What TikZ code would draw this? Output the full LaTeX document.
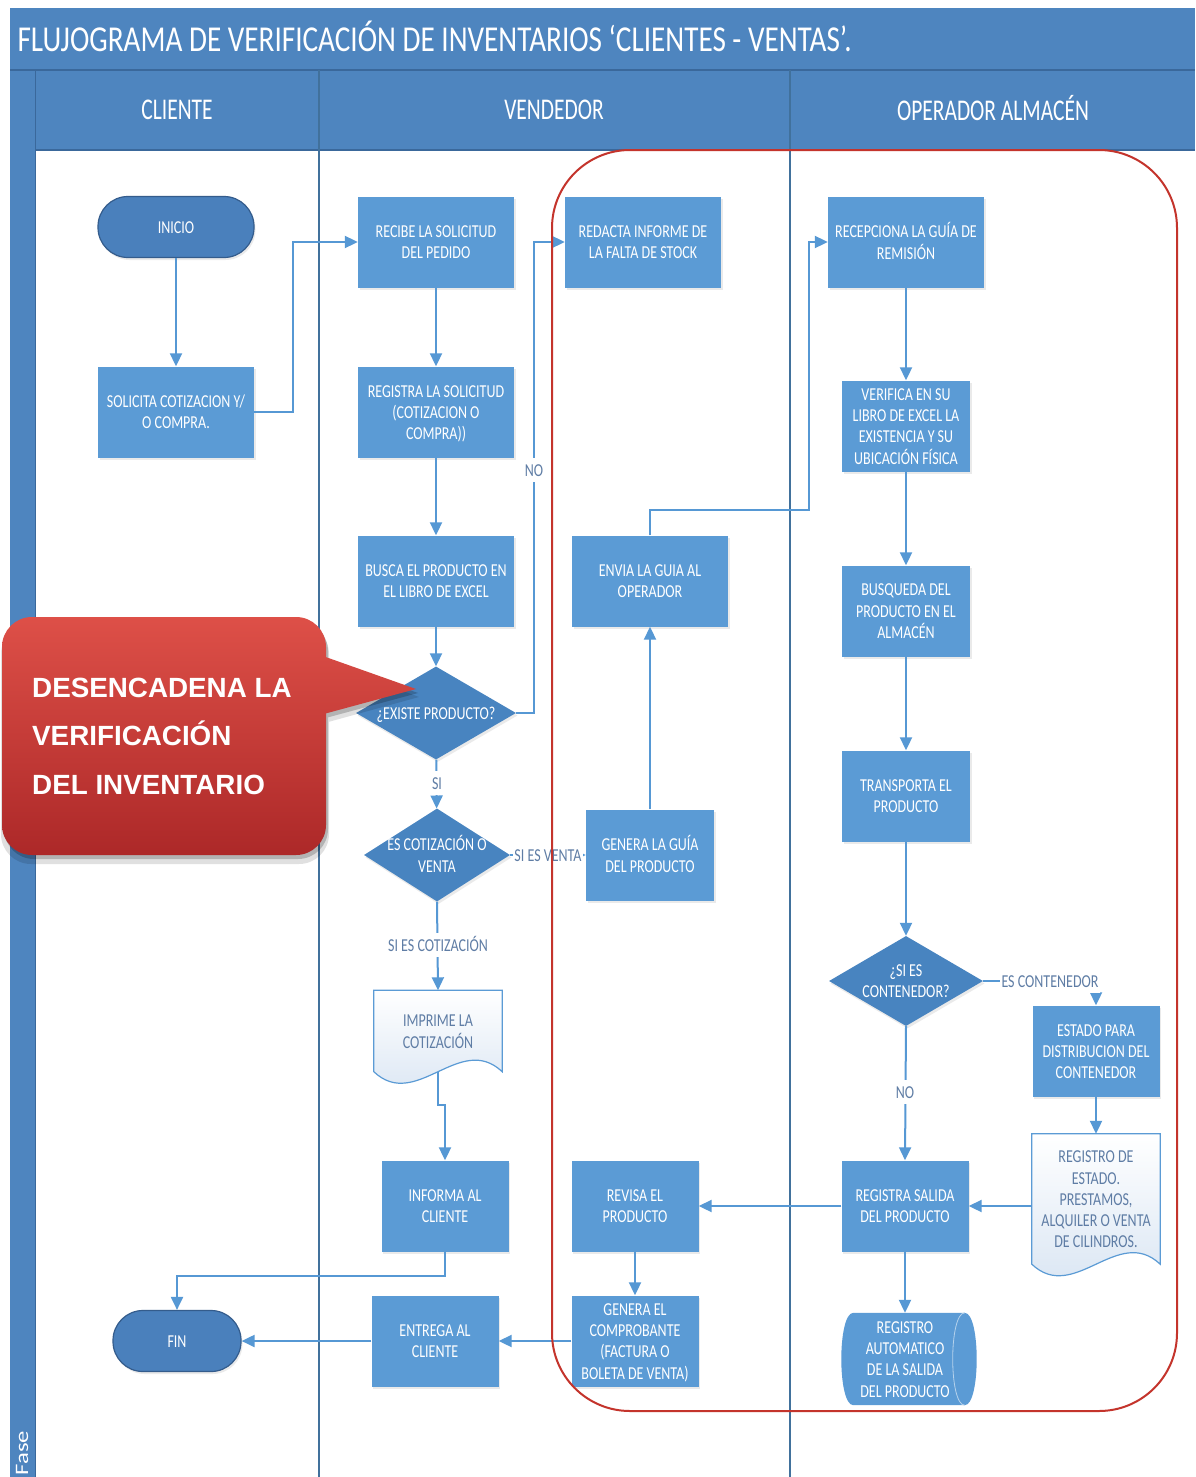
\documentclass[tikz,border=0pt]{standalone}
\usepackage{fontspec}
\setmainfont{Carlito}
\newfontfamily\calfont{Liberation Sans}
\usetikzlibrary{arrows.meta,calc,shadows,shapes.geometric}

\definecolor{hdr}{RGB}{78,133,191}
\definecolor{hdrline}{RGB}{58,104,155}
\definecolor{boxfill}{RGB}{91,155,213}
\definecolor{decfill}{RGB}{72,132,192}
\definecolor{termfill}{RGB}{74,128,188}
\definecolor{termline}{RGB}{52,92,140}
\definecolor{flow}{RGB}{86,152,212}
\definecolor{lane}{RGB}{65,113,156}
\definecolor{lbl}{RGB}{95,125,165}
\definecolor{frame}{RGB}{196,52,44}
\definecolor{docbot}{RGB}{214,227,242}
\definecolor{calTop}{RGB}{222,80,72}
\definecolor{calBot}{RGB}{172,40,40}

% vertically stretched, centred block of text, set slightly low in its box
\newcommand\stx[2][1.3]{\raisebox{-2pt}[\height][\depth]{\scalebox{1}[#1]{\begin{tabular}{@{}c@{}}#2\end{tabular}}}}
\newcommand\boxfont{\fontsize{14}{16.3}\selectfont}
\newcommand\titlefont{\fontsize{29.2}{32}\selectfont}
\newcommand\headfont{\fontsize{21.5}{24}\selectfont}

\pgfdeclarelayer{back}
\pgfdeclarelayer{shapes}
\pgfsetlayers{back,shapes,main}

\begin{document}
\begin{tikzpicture}[x=1pt,y=-1pt,
  softshadow/.style={drop shadow={opacity=0.16,shadow xshift=1.5pt,shadow yshift=-2.5pt}},
  box/.style={rectangle,fill=boxfill,text=white,font=\boxfont,inner sep=1pt,
              minimum width=156pt,minimum height=91pt,softshadow},
  nbox/.style={box,minimum width=127pt},
  term/.style={rectangle,rounded corners=30pt,fill=termfill,draw=termline,line width=1.2pt,
               text=white,font=\boxfont,minimum height=61pt,softshadow},
  decision/.style={diamond,fill=decfill,inner sep=0pt,softshadow},
  dtext/.style={text=white,font=\boxfont,inner sep=0pt},
  docnode/.style={rectangle,text=lbl,font=\boxfont,inner sep=0pt,minimum width=128pt},
  docshape/.style={draw=boxfill,line width=1.2pt,top color=white,bottom color=docbot},
  flowline/.style={draw=flow,line width=2pt,-{Triangle[width=12pt,length=13pt]}},
  edgelabel/.style={fill=white,text=lbl,font=\boxfont,inner sep=1.5pt},
  lanehead/.style={text=white,font=\headfont}]

\useasboundingbox (0,0) rectangle (1195,1477);

% ---------- swimlane frame ----------
\begin{pgfonlayer}{back}
  \fill[white] (0,0) rectangle (1195,1477);
  \fill[hdr] (10,8) rectangle (1195,150);
  \fill[hdr] (10,150) rectangle (35,1477);
\end{pgfonlayer}
\draw[hdrline,line width=1.2pt] (10,70) -- (1195,70);
\draw[hdrline,line width=1.2pt] (35,150) -- (1195,150);
\draw[hdrline,line width=1pt] (35,70) -- (35,1477);
\draw[lane,line width=1.5pt] (319,70) -- (319,1477);
\draw[lane,line width=1.5pt] (790,70) -- (790,1477);

\node[anchor=west,text=white,font=\titlefont] (title) at (14,40)
  {\stx[1.25]{FLUJOGRAMA DE VERIFICACIÓN DE INVENTARIOS ‘CLIENTES - VENTAS’.}};
\node[lanehead] (hcli) at (177,111) {\stx[1.4]{CLIENTE}};
\node[lanehead] (hven) at (554,111) {\stx[1.4]{VENDEDOR}};
\node[lanehead] (hope) at (993,111) {\stx[1.4]{OPERADOR ALMACÉN}};
\node[rotate=90,text=white,font=\fontsize{19}{21}\selectfont] (fase) at (22,1453)
  {\scalebox{1.3}[1]{Fase}};

% ---------- CLIENTE ----------
\node[term,minimum width=156pt] (ini) at (176,227) {\stx{INICIO}};
\node[box] (sol) at (176,412) {\stx{SOLICITA COTIZACION Y/\\O COMPRA.}};
\node[term,minimum width=128pt] (fin) at (177,1341) {\stx{FIN}};

% ---------- VENDEDOR ----------
\node[box] (rec) at (436,242) {\stx{RECIBE LA SOLICITUD\\DEL PEDIDO}};
\node[box] (reg) at (436,412) {\stx{REGISTRA LA SOLICITUD\\(COTIZACION O\\COMPRA))}};
\node[box] (bus) at (436,581) {\stx{BUSCA EL PRODUCTO EN\\EL LIBRO DE EXCEL}};
\node[decision,minimum width=160pt,minimum height=93pt] (exi) at (436,713) {};
\node[dtext] (exit) at (exi) {\stx{¿EXISTE PRODUCTO?}};
\node[decision,minimum width=146pt,minimum height=93pt] (cot) at (437,855) {};
\node[dtext] (cott) at (cot) {\stx{ES COTIZACIÓN O\\VENTA}};
\node[docnode,minimum height=81pt] (imp) at (438,1031) {\stx{IMPRIME LA\\COTIZACIÓN}};
\node[nbox] (inf) at (445,1206) {\stx{INFORMA AL\\CLIENTE}};
\node[nbox] (ent) at (435,1341) {\stx{ENTREGA AL\\CLIENTE}};

\node[box] (red) at (643,242) {\stx{REDACTA INFORME DE\\LA FALTA DE STOCK}};
\node[box] (env) at (650,581) {\stx{ENVIA LA GUIA AL\\OPERADOR}};
\node[box,minimum width=128pt] (gen) at (650,855) {\stx{GENERA LA GUÍA\\DEL PRODUCTO}};
\node[nbox] (rev) at (635,1206) {\stx{REVISA EL\\PRODUCTO}};
\node[nbox] (com) at (635,1341) {\stx{GENERA EL\\COMPROBANTE\\(FACTURA O\\BOLETA DE VENTA)}};

% ---------- OPERADOR ALMACÉN ----------
\node[box] (rcp) at (906,242) {\stx{RECEPCIONA LA GUÍA DE\\REMISIÓN}};
\node[box,minimum width=128pt] (ver) at (906,426) {\stx{VERIFICA EN SU\\LIBRO DE EXCEL LA\\EXISTENCIA Y SU\\UBICACIÓN FÍSICA}};
\node[box,minimum width=128pt] (bsq) at (906,611) {\stx{BUSQUEDA DEL\\PRODUCTO EN EL\\ALMACÉN}};
\node[box,minimum width=128pt] (tra) at (906,796) {\stx{TRANSPORTA EL\\PRODUCTO}};
\node[decision,minimum width=154pt,minimum height=90pt] (con) at (906,981) {};
\node[dtext] (cont) at (con) {\stx{¿SI ES\\CONTENEDOR?}};
\node[nbox] (est) at (1096,1051) {\stx{ESTADO PARA\\DISTRIBUCION DEL\\CONTENEDOR}};
\node[docnode,minimum height=130pt] (rst) at (1096,1199) {\stx{REGISTRO DE\\ESTADO.\\PRESTAMOS,\\ALQUILER O VENTA\\DE CILINDROS.}};
\node[nbox] (regs) at (905,1206) {\stx{REGISTRA SALIDA\\DEL PRODUCTO}};
\node[rectangle,text=white,font=\boxfont,inner sep=0pt,minimum width=135pt,minimum height=92pt]
  (auto) at (909,1359) {\hspace*{-8pt}\stx{REGISTRO\\AUTOMATICO\\DE LA SALIDA\\DEL PRODUCTO}};

% ---------- document and stored-data outlines ----------
\begin{pgfonlayer}{shapes}
  \foreach \d in {imp,rst}{
    \path[docshape] (\d.north west) -- (\d.north east) -- (\d.south east)
      .. controls ($(\d.south west)!0.67!(\d.south east)+(0,-40)$)
         and ($(\d.south west)!0.33!(\d.south east)+(0,40)$) .. (\d.south west) -- cycle;
  }
  \fill[boxfill] ($(auto.north west)+(12,0)$) -- ($(auto.north east)+(-12,0)$)
    .. controls ($(auto.north east)+(4,0)$) and ($(auto.south east)+(4,0)$) .. ($(auto.south east)+(-12,0)$)
    -- ($(auto.south west)+(12,0)$)
    .. controls ($(auto.south west)+(-4,0)$) and ($(auto.north west)+(-4,0)$) .. cycle;
  \draw[white!55!boxfill,line width=0.8pt] ($(auto.north east)+(-12,0)$)
    .. controls ($(auto.north east)+(-28,0)$) and ($(auto.south east)+(-28,0)$) .. ($(auto.south east)+(-12,0)$);
\end{pgfonlayer}

% ---------- connectors ----------
\draw[flowline] (ini) -- (sol);
\draw[flowline] (sol.east) -- ++(39,0) |- (rec.west);
\draw[flowline] (rec) -- (reg);
\draw[flowline] (reg) -- (bus);
\draw[flowline] (bus) -- (exi);
\draw[flowline] (exi.east) -- ++(18,0) |- (red.west);
\draw[flowline] (exi) -- (cot);
\draw[flowline] (cot.east) -- (gen.west);
\draw[flowline] (cot.south) -- (imp.north);
\draw[flowline] (imp.south) -- ++(0,33) -| (inf.north);
\draw[flowline] (inf.south) -- ++(0,24) -| (fin.north);
\draw[flowline] (ent) -- (fin);
\draw[flowline] (com) -- (ent);
\draw[flowline] (rev) -- (com);
\draw[flowline] (regs) -- (rev);
\draw[flowline] (gen) -- (env);
\draw[flowline] (env.north) -- ++(0,-25) -- ++(159,0) |- (rcp.west);
\draw[flowline] (rcp) -- (ver);
\draw[flowline] (ver) -- (bsq);
\draw[flowline] (bsq) -- (tra);
\draw[flowline] (tra) -- (con);
\draw[flowline] (con.east) -| (est.north);
\draw[flowline] (con.south) -- (regs.north);
\draw[flowline] (est) -- (rst.north);
\draw[flowline] (rst.west |- regs.east) -- (regs.east);
\draw[flowline] (regs.south) -- (regs.south |- auto.north);

% ---------- connector labels ----------
\node[edgelabel] (lno) at (534,470) {\stx{NO}};
\node[edgelabel] (lsi) at (437,783) {\stx{SI}};
\node[edgelabel] (lventa) at (548,855) {\stx{SI ES VENTA}};
\node[edgelabel] (lcot) at (438,945) {\stx{SI ES COTIZACIÓN}};
\node[edgelabel] (lcont) at (1050,981) {\stx{ES CONTENEDOR}};
\node[edgelabel] (lno2) at (905,1092) {\stx{NO}};

% ---------- highlighted area ----------
\draw[frame,line width=2pt,rounded corners=78pt] (552,150) rectangle (1177,1411);

% ---------- callout ----------
\fill[black,opacity=0.12,rounded corners=30pt,xshift=1pt,yshift=-7pt]
  (0,617) rectangle (328,857) (320,717) [sharp corners] -- (418,690) -- (320,653) -- cycle;
\fill[black,opacity=0.2,rounded corners=30pt,xshift=2pt,yshift=-4pt]
  (2,617) rectangle (326,855) (320,715) [sharp corners] -- (416,689) -- (320,655) -- cycle;
\begin{scope}
  \clip[rounded corners=30pt] (2,617) rectangle (326,855)
    (320,715) [sharp corners] -- (416,689) -- (320,655) -- cycle;
  \shade[top color=calTop,bottom color=calBot] (0,615) rectangle (420,857);
\end{scope}
\node[anchor=west,text=white,font={\calfont\bfseries\fontsize{27.8}{48.5}\selectfont},inner sep=0pt]
  (calltext) at (32,736) {\begin{tabular}{@{}l@{}}DESENCADENA LA\\VERIFICACIÓN\\DEL INVENTARIO\end{tabular}};

\end{tikzpicture}
\end{document}
